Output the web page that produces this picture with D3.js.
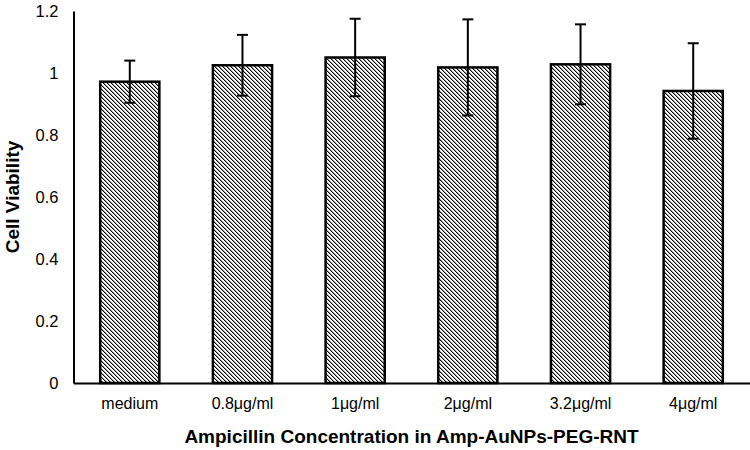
<!DOCTYPE html>
<html><head><meta charset="utf-8">
<script src="https://cdn.jsdelivr.net/npm/d3@7"></script>
<style>body{margin:0;background:#fff}svg{display:block}text{font-family:"Liberation Sans",Arial,sans-serif}</style>
</head><body><svg id="c" width="750" height="450"></svg>
<script>
const categories = ["medium","0.8μg/ml","1μg/ml","2μg/ml","3.2μg/ml","4μg/ml"];
const values = [0.972, 1.025, 1.050, 1.018, 1.028, 0.942];
const errors = [0.068, 0.098, 0.125, 0.155, 0.129, 0.154];
const yTicks = [0, 0.2, 0.4, 0.6, 0.8, 1, 1.2];

const svg = d3.select("#c");
const m = {l:73.5, r:0.5, t:11, b:67};
const W = 750, H = 450;
const x = d3.scaleBand().domain(categories).range([m.l, W - m.r]).paddingInner(0.475).paddingOuter(0.237);
const y = d3.scaleLinear().domain([0, 1.2]).range([H - m.b, m.t]);

const defs = svg.append("defs");
const pat = defs.append("pattern").attr("id","hatch").attr("patternUnits","userSpaceOnUse")
  .attr("width",4).attr("height",4).attr("shape-rendering","crispEdges");
pat.append("rect").attr("width",4).attr("height",4).attr("fill","#fff");
[0,1,2,3].forEach(i => {
  pat.append("rect").attr("x",i).attr("y",i).attr("width",1).attr("height",1).attr("fill","#000");
  pat.append("rect").attr("x",(i+1)%4).attr("y",i).attr("width",1).attr("height",1).attr("fill","#9a9a9a");
});

// bars
svg.append("g").selectAll("rect").data(categories).join("rect")
  .attr("x", d => x(d)).attr("width", x.bandwidth())
  .attr("y", (d,i) => y(values[i])).attr("height", (d,i) => y(0) - y(values[i]))
  .attr("fill","url(#hatch)").attr("stroke","#000").attr("stroke-width",2.5);

// error bars
const eg = svg.append("g").attr("stroke","#000").attr("stroke-width",2);
categories.forEach((c,i) => {
  const cx = x(c) + x.bandwidth()/2;
  eg.append("line").attr("x1",cx).attr("x2",cx).attr("y1",y(values[i]+errors[i])).attr("y2",y(values[i]-errors[i]));
  eg.append("line").attr("x1",cx-5.5).attr("x2",cx+5.5).attr("y1",y(values[i]+errors[i])).attr("y2",y(values[i]+errors[i]));
  eg.append("line").attr("x1",cx-5.5).attr("x2",cx+5.5).attr("y1",y(values[i]-errors[i])).attr("y2",y(values[i]-errors[i]));
});

// y axis
const ya = svg.append("g").attr("transform",`translate(${m.l},0)`)
  .call(d3.axisLeft(y).tickValues(yTicks).tickSize(0).tickPadding(15).tickFormat(d => d3.format("")(+d.toFixed(1))));
ya.select(".domain").attr("stroke","#000").attr("stroke-width",2);
ya.selectAll("text").attr("font-size",16.5).attr("fill","#000");

// x axis
const xa = svg.append("g").attr("transform",`translate(0,${H - m.b})`)
  .call(d3.axisBottom(x).tickSize(0).tickPadding(15));
xa.select(".domain").attr("stroke","#000").attr("stroke-width",2);
xa.selectAll("text").attr("font-size",16).attr("fill","#000");

svg.append("text").attr("x",(m.l + W - m.r)/2).attr("y",443).attr("text-anchor","middle")
  .attr("font-size",19).attr("font-weight","bold").text("Ampicillin Concentration in Amp-AuNPs-PEG-RNT");
svg.append("text").attr("transform",`translate(19,${(m.t + H - m.b)/2}) rotate(-90)`).attr("text-anchor","middle")
  .attr("font-size",19).attr("font-weight","bold").text("Cell Viability");
</script></body></html>
